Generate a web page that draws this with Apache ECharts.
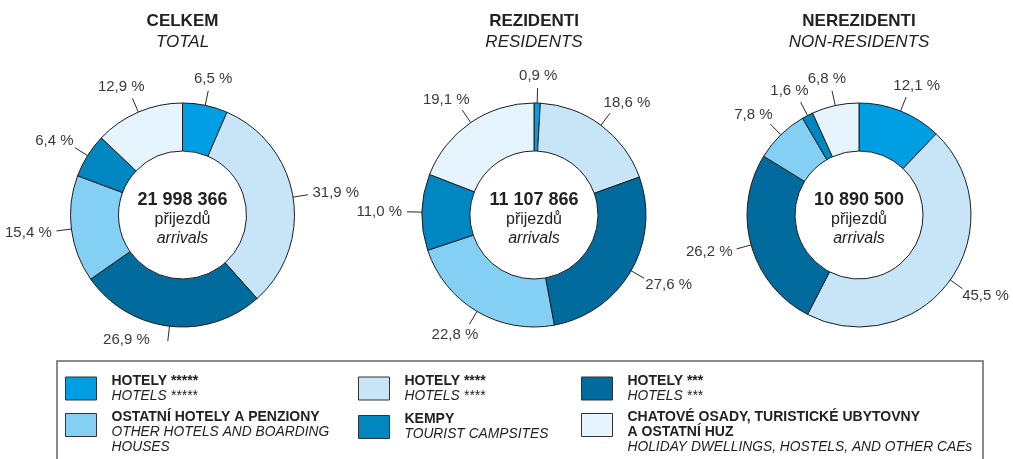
<!DOCTYPE html>
<html>
<head>
<meta charset="utf-8">
<script src="https://cdn.jsdelivr.net/npm/echarts@6/dist/echarts.min.js"></script>
<style>
html,body{margin:0;padding:0;background:#fff;}
#chart{width:1013px;height:459px;}
</style>
</head>
<body>
<div id="chart"></div>
<script>
// ---- data ----
const categoriesCz = ['HOTELY *****', 'HOTELY ****', 'HOTELY ***', 'OSTATNÍ HOTELY A PENZIONY', 'KEMPY', 'CHATOVÉ OSADY, TURISTICKÉ UBYTOVNY A OSTATNÍ HUZ'];
const categoriesCzLines = [['HOTELY *****'], ['HOTELY ****'], ['HOTELY ***'], ['OSTATNÍ HOTELY A PENZIONY'], ['KEMPY'], ['CHATOVÉ OSADY, TURISTICKÉ UBYTOVNY', 'A OSTATNÍ HUZ']];
const categoriesEnLines = [['HOTELS *****'], ['HOTELS ****'], ['HOTELS ***'], ['OTHER HOTELS AND BOARDING', 'HOUSES'], ['TOURIST CAMPSITES'], ['HOLIDAY DWELLINGS, HOSTELS, AND OTHER CAEs']];
const colors = ['#009fe3', '#c7e5f7', '#006b9c', '#84cff4', '#0086c1', '#e6f4fd'];

const chartTitlesCz = ['CELKEM', 'REZIDENTI', 'NEREZIDENTI'];
const chartTitlesEn = ['TOTAL', 'RESIDENTS', 'NON-RESIDENTS'];
const totals = ['21 998 366', '11 107 866', '10 890 500'];
const centerWordCz = 'přijezdů';
const centerWordEn = 'arrivals';

const celkem = [6.5, 31.9, 26.9, 15.4, 6.4, 12.9];
const rezidenti = [0.9, 18.6, 27.6, 22.8, 11.0, 19.1];
const nerezidenti = [12.1, 45.5, 26.2, 7.8, 1.6, 6.8];
const seriesValues = [celkem, rezidenti, nerezidenti];

// ---- layout ----
const FONT = '"Liberation Sans", Arial, Helvetica, sans-serif';
const centersX = [182.5, 534, 859];
const centerY = 215;
const rOuter = 112, rInner = 64;
const LEGEND_TOP = 361;

function fmtPct(v) { return v.toFixed(1).replace('.', ',') + ' %'; }

function radialLayout(params) {
  const pts = params.labelLinePoints;
  if (!pts) return {};
  const p0 = pts[0], p1 = pts[1];
  let dx = p1[0] - p0[0], dy = p1[1] - p0[1];
  const L = Math.hypot(dx, dy) || 1; dx /= L; dy /= L;
  const w = params.labelRect.width, h = params.labelRect.height;
  const g = 5;
  let x = p1[0] + dx * (w / 2 + g);
  let y = p1[1] + dy * (h / 2 + g);
  if (y + h / 2 > LEGEND_TOP - 12) {
    // keep clear of the legend frame: put the label beside the line end
    x = p1[0] + (dx < 0 ? -1 : 1) * (w / 2 + 18);
    y = p1[1] - 1;
  }
  return { x: x, y: y, align: 'center', verticalAlign: 'middle', labelLinePoints: [p0, p1, p1] };
}

const series = seriesValues.map((vals, si) => ({
  type: 'pie',
  name: chartTitlesCz[si],
  center: [centersX[si], centerY],
  radius: [rInner, rOuter],
  startAngle: 90,
  clockwise: true,
  avoidLabelOverlap: false,
  animation: false,
  emphasis: { disabled: true, scale: false },
  itemStyle: { borderColor: '#1e1e1e', borderWidth: 1 },
  label: {
    show: true,
    position: 'outside',
    formatter: p => fmtPct(p.value),
    color: '#3a3a3a',
    fontFamily: FONT,
    fontSize: 15
  },
  labelLine: { show: true, length: 15, length2: 0, smooth: false, lineStyle: { color: '#2a2a2a', width: 1 } },
  labelLayout: radialLayout,
  data: vals.map((v, i) => ({ name: categoriesCz[i], value: v, itemStyle: { color: colors[i] } }))
}));

const titles = [];
chartTitlesCz.forEach((t, i) => {
  titles.push({
    text: t,
    subtext: chartTitlesEn[i],
    left: centersX[i],
    top: 13,
    textAlign: 'center',
    padding: 0,
    itemGap: 4,
    textStyle: { fontFamily: FONT, fontSize: 17, fontWeight: 'bold', color: '#222' },
    subtextStyle: { fontFamily: FONT, fontSize: 17, fontStyle: 'italic', color: '#222' }
  });
  titles.push({
    text: '{n|' + totals[i] + '}\n{p|' + centerWordCz + '}\n{a|' + centerWordEn + '}',
    left: centersX[i],
    top: 191,
    textAlign: 'center',
    padding: 0,
    textStyle: {
      fontWeight: 'normal',
      rich: {
        n: { fontFamily: FONT, fontSize: 18, fontWeight: 'bold', color: '#222', lineHeight: 18, align: 'center' },
        p: { fontFamily: FONT, fontSize: 16, fontWeight: 'normal', color: '#222', lineHeight: 22, align: 'center' },
        a: { fontFamily: FONT, fontSize: 16, fontWeight: 'normal', fontStyle: 'italic', color: '#222', lineHeight: 16, align: 'center' }
      }
    }
  });
});

const legendCols = [65, 358, 581];
const legends = categoriesCz.map((c, i) => {
  const col = i % 3, row = Math.floor(i / 3);
  const nLines = categoriesCzLines[i].length + categoriesEnLines[i].length;
  const iconTop = row === 0 ? 377.5 : 416;
  // items with 3 lines get a blank first line so the text stays top-aligned with the swatch
  const extra = nLines > 2 ? 1 : 0;
  const totalLines = nLines + extra;
  const textTop = 11.5 - totalLines * 15 / 2;
  return {
    data: [c],
    left: legendCols[col],
    top: iconTop + textTop,
    orient: 'vertical',
    padding: 0,
    icon: 'rect',
    itemWidth: 31,
    itemHeight: 23,
    selectedMode: false,
    itemStyle: { borderColor: '#333', borderWidth: 1 },
    formatter: name => {
      const k = categoriesCz.indexOf(name);
      const nl = categoriesCzLines[k].length + categoriesEnLines[k].length;
      const lines = categoriesCzLines[k].map(s => '{b|' + s + '}').concat(categoriesEnLines[k].map(s => '{i|' + s + '}'));
      if (nl > 2) lines.unshift('{s| }');
      return lines.join('\n');
    },
    textStyle: {
      padding: [0, 0, 0, 10],
      rich: {
        s: { fontFamily: FONT, fontSize: 10, lineHeight: 15 },
        b: { fontFamily: FONT, fontSize: 14, fontWeight: 'bold', color: '#222', lineHeight: 15 },
        i: { fontFamily: FONT, fontSize: 13.8, fontStyle: 'italic', color: '#222', lineHeight: 15 }
      }
    }
  };
});

const chart = echarts.init(document.getElementById('chart'), null, { renderer: 'canvas' });
chart.setOption({
  backgroundColor: '#fff',
  animation: false,
  title: titles,
  legend: legends,
  graphic: [{
    type: 'rect',
    shape: { x: 57, y: LEGEND_TOP, width: 926, height: 110 },
    style: { fill: 'none', stroke: '#666', lineWidth: 1.5 },
    silent: true,
    z: 0
  }],
  series: series
});
</script>
</body>
</html>
